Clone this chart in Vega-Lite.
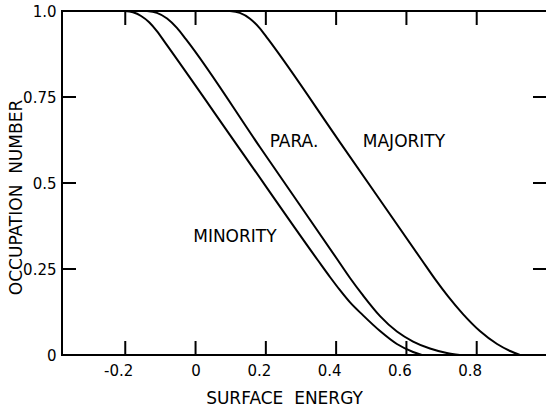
{
  "$schema": "https://vega.github.io/schema/vega-lite/v6.json",
  "width": 485,
  "height": 344,
  "autosize": {"type": "none"},
  "padding": {"left": 62, "top": 11, "right": 0, "bottom": 51},
  "background": "white",
  "config": {
    "view": {"stroke": "black", "strokeWidth": 2},
    "font": "DejaVu Sans",
    "axis": {
      "domain": false,
      "ticks": false,
      "tickSize": 0,
      "grid": false,
      "labelColor": "black",
      "labelFont": "DejaVu Sans",
      "labelFontSize": 15,
      "titleColor": "black",
      "titleFont": "DejaVu Sans",
      "titleFontSize": 17,
      "titleFontWeight": "normal"
    }
  },
  "datasets": {
    "curves": [
      {"series": "minority", "energy": -0.201, "occ": 1.0},
      {"series": "minority", "energy": -0.178, "occ": 0.9962},
      {"series": "minority", "energy": -0.155, "occ": 0.9855},
      {"series": "minority", "energy": -0.132, "occ": 0.9672},
      {"series": "minority", "energy": -0.110, "occ": 0.9414},
      {"series": "minority", "energy": -0.087, "occ": 0.9087},
      {"series": "minority", "energy": 0.126, "occ": 0.5986},
      {"series": "minority", "energy": 0.348, "occ": 0.2754},
      {"series": "minority", "energy": 0.383, "occ": 0.2261},
      {"series": "minority", "energy": 0.411, "occ": 0.1884},
      {"series": "minority", "energy": 0.439, "occ": 0.1536},
      {"series": "minority", "energy": 0.476, "occ": 0.1159},
      {"series": "minority", "energy": 0.525, "occ": 0.0696},
      {"series": "minority", "energy": 0.573, "occ": 0.0319},
      {"series": "minority", "energy": 0.619, "occ": 0.0087},
      {"series": "minority", "energy": 0.644, "occ": 0.0},
      {"series": "para", "energy": -0.138, "occ": 1.0},
      {"series": "para", "energy": -0.110, "occ": 0.9945},
      {"series": "para", "energy": -0.081, "occ": 0.9783},
      {"series": "para", "energy": -0.053, "occ": 0.951},
      {"series": "para", "energy": -0.027, "occ": 0.9174},
      {"series": "para", "energy": 0.183, "occ": 0.6046},
      {"series": "para", "energy": 0.405, "occ": 0.2754},
      {"series": "para", "energy": 0.439, "occ": 0.2246},
      {"series": "para", "energy": 0.476, "occ": 0.1739},
      {"series": "para", "energy": 0.525, "occ": 0.1130},
      {"series": "para", "energy": 0.573, "occ": 0.0681},
      {"series": "para", "energy": 0.619, "occ": 0.0391},
      {"series": "para", "energy": 0.667, "occ": 0.0188},
      {"series": "para", "energy": 0.715, "occ": 0.0058},
      {"series": "para", "energy": 0.752, "occ": 0.0},
      {"series": "majority", "energy": 0.098, "occ": 1.0},
      {"series": "majority", "energy": 0.126, "occ": 0.9945},
      {"series": "majority", "energy": 0.155, "occ": 0.9777},
      {"series": "majority", "energy": 0.183, "occ": 0.9496},
      {"series": "majority", "energy": 0.206, "occ": 0.9188},
      {"series": "majority", "energy": 0.411, "occ": 0.6183},
      {"series": "majority", "energy": 0.644, "occ": 0.2754},
      {"series": "majority", "energy": 0.681, "occ": 0.2212},
      {"series": "majority", "energy": 0.718, "occ": 0.1710},
      {"series": "majority", "energy": 0.761, "occ": 0.1188},
      {"series": "majority", "energy": 0.809, "occ": 0.0696},
      {"series": "majority", "energy": 0.858, "occ": 0.0319},
      {"series": "majority", "energy": 0.895, "occ": 0.0116},
      {"series": "majority", "energy": 0.923, "occ": 0.0}
    ],
    "labels": [
      {"text": "PARA.", "lx": 0.280, "ly": 0.618},
      {"text": "MAJORITY", "lx": 0.593, "ly": 0.618},
      {"text": "MINORITY", "lx": 0.112, "ly": 0.342}
    ],
    "xticks": [{"tv": -0.2}, {"tv": 0}, {"tv": 0.2}, {"tv": 0.4}, {"tv": 0.6}, {"tv": 0.8}],
    "yticks": [{"tv": 0.25}, {"tv": 0.5}, {"tv": 0.75}]
  },
  "layer": [
    {
      "data": {"name": "curves"},
      "mark": {"type": "line", "color": "black", "strokeWidth": 2, "interpolate": "monotone"},
      "encoding": {
        "x": {
          "field": "energy", "type": "quantitative",
          "scale": {"domain": [-0.38, 1.0], "nice": false, "zero": false},
          "axis": {
            "orient": "bottom",
            "values": [-0.2, 0, 0.2, 0.4, 0.6, 0.8],
            "labelExpr": "toString(datum.value)",
            "labelPadding": 8,
            "labelOffset": {"condition": {"test": "datum.value == 0", "value": 0}, "value": -7},
            "title": "SURFACE\u00a0\u00a0ENERGY",
            "titleX": 222,
            "titleY": 43,
            "titleBaseline": "middle"
          }
        },
        "y": {
          "field": "occ", "type": "quantitative",
          "scale": {"domain": [0, 1], "nice": false},
          "axis": {
            "orient": "left",
            "values": [0, 0.25, 0.5, 0.75, 1],
            "labelExpr": "datum.value == 1 ? '1.0' : toString(datum.value)",
            "labelPadding": 6,
            "title": "OCCUPATION\u00a0\u00a0NUMBER",
            "titleX": -45.5,
            "titleY": 186,
            "titleBaseline": "middle"
          }
        },
        "detail": {"field": "series"}
      }
    },
    {
      "data": {"name": "xticks"},
      "mark": {"type": "point", "shape": "M0,-1L0,1", "size": 196, "filled": false, "stroke": "black", "strokeWidth": 2, "opacity": 1},
      "encoding": {
        "x": {"field": "tv", "type": "quantitative", "axis": null},
        "y": {"datum": 0.0204, "type": "quantitative", "axis": null}
      }
    },
    {
      "data": {"name": "xticks"},
      "mark": {"type": "point", "shape": "M0,-1L0,1", "size": 196, "filled": false, "stroke": "black", "strokeWidth": 2, "opacity": 1},
      "encoding": {
        "x": {"field": "tv", "type": "quantitative", "axis": null},
        "y": {"datum": 0.9796, "type": "quantitative", "axis": null}
      }
    },
    {
      "data": {"name": "yticks"},
      "mark": {"type": "point", "shape": "M-1,0L1,0", "size": 196, "filled": false, "stroke": "black", "strokeWidth": 2, "opacity": 1},
      "encoding": {
        "y": {"field": "tv", "type": "quantitative", "axis": null},
        "x": {"datum": -0.3601, "type": "quantitative", "axis": null}
      }
    },
    {
      "data": {"name": "yticks"},
      "mark": {"type": "point", "shape": "M-1,0L1,0", "size": 196, "filled": false, "stroke": "black", "strokeWidth": 2, "opacity": 1},
      "encoding": {
        "y": {"field": "tv", "type": "quantitative", "axis": null},
        "x": {"datum": 0.9801, "type": "quantitative", "axis": null}
      }
    },
    {
      "data": {"name": "labels"},
      "mark": {"type": "text", "color": "black", "font": "DejaVu Sans", "fontSize": 17, "align": "center", "baseline": "middle"},
      "encoding": {
        "x": {"field": "lx", "type": "quantitative", "axis": null},
        "y": {"field": "ly", "type": "quantitative", "axis": null},
        "text": {"field": "text"}
      }
    }
  ],
  "resolve": {"axis": {"x": "independent", "y": "independent"}}
}
